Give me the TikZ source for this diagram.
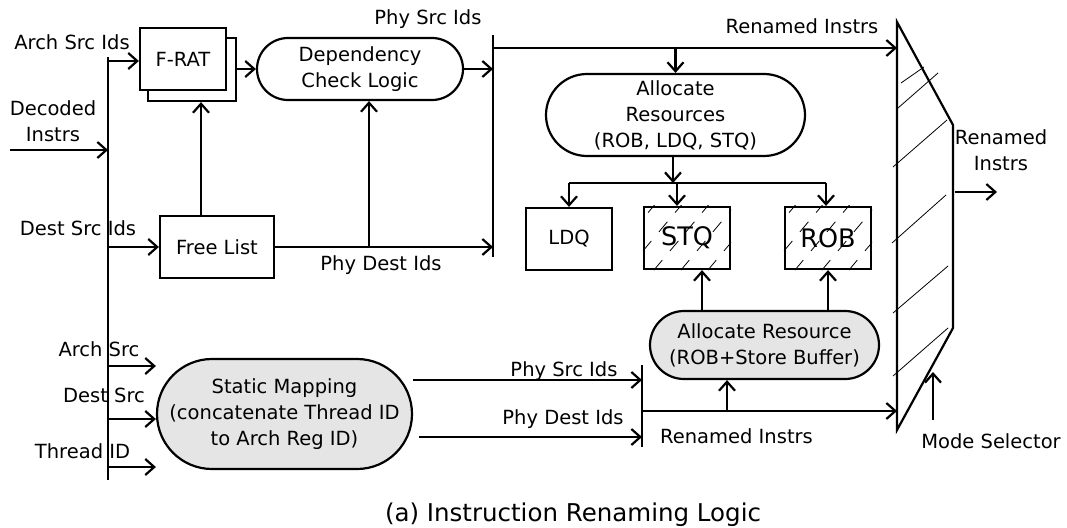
\documentclass[tikz,border=0pt]{standalone}
\usepackage{fontspec}
\setmainfont{DejaVu Sans}
\usetikzlibrary{arrows.meta,calc}
\begin{document}
\begin{tikzpicture}[x=1pt,y=-1pt,
  every node/.style={font=\fontsize{19.5}{26}\selectfont},
  blk/.style={draw,line width=2.2pt,inner sep=0pt,fill=white,align=center},
  lbl/.style={inner sep=0pt,anchor=base},
  mlbl/.style={inner sep=0pt,align=center},
  ln/.style={line width=2.2pt},
  arr/.style={line width=2.2pt,-{Straight Barb[length=9pt,width=16pt,line width=2.2pt]}},
  hatch/.style={line width=0.8pt},
  grey/.style={fill=black!10}]
\useasboundingbox (0,0) rectangle (1067,527);

% buses
\coordinate (lt) at (108,57); \coordinate (lb) at (108,480);
\coordinate (mt) at (493,35); \coordinate (mb) at (493,257);
\coordinate (bt) at (642,365); \coordinate (bb) at (642,447);
\draw[ln] (lt) -- (lb);
\draw[ln] (mt) -- (mb);
\draw[ln] (bt) -- (bb);

% mux
\coordinate (m1) at (897,22); \coordinate (m2) at (953,125);
\coordinate (m3) at (953,328); \coordinate (m4) at (897,430);
\draw[ln,line join=miter] (m1) -- (m2) -- (m3) -- (m4) -- cycle;
\draw[hatch] (901,83) -- (924,67);
\draw[hatch] (898,108) -- (938,73);
\draw[hatch] (893,167) -- (947,120);
\draw[hatch] (892,243) -- (946,195);
\draw[hatch] (893,313) -- (948,266);
\draw[hatch] (893,376) -- (948,328);

% blocks
\node[blk,minimum width=88pt,minimum height=63pt] (frat2) at (192,69.5) {};
\node[blk,minimum width=86pt,minimum height=62pt] (frat) at (183,59) {F-RAT};
\node[blk,rounded corners=31pt,minimum width=206pt,minimum height=62pt] (dcl) at (360,69) {Dependency\\Check Logic};
\node[blk,minimum width=114pt,minimum height=62pt] (free) at (217,247) {Free List};
\node[blk,rounded corners=41pt,minimum width=259pt,minimum height=82pt] (alloc) at (675.5,115) {Allocate\\Resources\\(ROB, LDQ, STQ)};
\node[blk,minimum width=86pt,minimum height=62pt] (ldq) at (569,239) {LDQ};
\node[blk,minimum width=86pt,minimum height=62pt,font=\fontsize{25.5}{30}\selectfont] (stq) at (687,238) {STQ};
\node[blk,minimum width=86pt,minimum height=62pt,font=\fontsize{25.5}{30}\selectfont] (rob) at (828,238) {ROB};
\node[blk,grey,rounded corners=34pt,minimum width=229pt,minimum height=68pt] (allocB) at (764.5,345) {Allocate Resource\\(ROB+Store Buffer)};
\node[blk,grey,rounded corners=55pt,minimum width=255pt,minimum height=110pt] (static) at (284.5,414) {Static Mapping\\(concatenate Thread ID\\to Arch Reg ID)};

% hatching of STQ and ROB
\foreach \b in {stq,rob}{
  \begin{scope}
    \clip (\b.south west) rectangle (\b.north east);
    \foreach \i in {-70,-43,...,110}
      \draw[hatch,dash pattern=on 13pt off 12pt] ($(\b.south west)+(\i,0)$) -- ++(62,-74);
  \end{scope}
}

% labels
\node[lbl] (lArch) at (72,49) {Arch Src Ids};
\node[mlbl] (lDec) at (53,121.5) {Decoded\\Instrs};
\node[lbl] (lDest) at (78,235) {Dest Src Ids};
\node[lbl] (lPhyS) at (428,25) {Phy Src Ids};
\node[lbl] (lPhyD) at (381,270) {Phy Dest Ids};
\node[lbl] (lRen) at (802,34) {Renamed Instrs};
\node[mlbl] (lRen2) at (1001,150) {Renamed\\Instrs};
\node[lbl] (lPS2) at (564,376) {Phy Src Ids};
\node[lbl] (lPD2) at (563,424) {Phy Dest Ids};
\node[lbl] (lRen3) at (736.5,443) {Renamed Instrs};
\node[lbl] (lMode) at (991,448) {Mode Selector};
\node[lbl] (lAS) at (99,356) {Arch Src};
\node[lbl] (lDS) at (104,402) {Dest Src};
\node[lbl] (lTID) at (82.5,458) {Thread ID};
\node[lbl,font=\fontsize{24.5}{30}\selectfont] (cap) at (573,521) {(a) Instruction Renaming Logic};

% helper coordinates
\coordinate (fw) at ([yshift=-2pt]frat.west);
\coordinate (sw) at ([yshift=-5pt]static.west);
\coordinate (se1) at ([yshift=34pt]static.east);
\coordinate (se2) at ([xshift=6pt,yshift=-23pt]static.east);
\coordinate (asou) at ([xshift=-2.5pt]alloc.south);
\coordinate (stn) at ([xshift=-10pt]stq.north);
\coordinate (robn) at ([xshift=-2pt]rob.north);
\coordinate (sts) at ([xshift=15pt]stq.south);
\coordinate (abs) at ([xshift=-37.5pt]allocB.south);
\coordinate (frn) at ([xshift=-16pt]free.north);
\coordinate (dcs) at ([xshift=9pt]dcl.south);
\coordinate (m2r) at ([xshift=2pt]m2);

% top-left connectors
\draw[arr] (lt |- fw) -- (fw);
\coordinate (din) at (10,150);
\draw[arr] (din) -- (din -| lt);
\draw[arr] (free.west -| lt) -- (free.west);
\draw[arr] (frn) -- (frn |- frat2.south);
\draw[arr] (frat2.east |- dcl.west) -- (dcl.west);
\draw[arr] (dcl.east) -- (dcl.east -| mt);
\draw[arr] (free.east) -- (free.east -| mt);
\draw[arr] (dcs |- free.east) -- (dcs);

% top-right connectors
\coordinate (ri) at (493,48);
\draw[arr] (ri) -- (ri -| m1);
\draw[arr] (ri -| alloc.north) -- (alloc.north);
\coordinate (sp) at (673,183);
\draw[arr] (asou) -- (asou |- sp);
\draw[ln] (ldq.north |- sp) -- (robn |- sp);
\draw[arr] (ldq.north |- sp) -- (ldq.north);
\draw[arr] (stn |- sp) -- (stn);
\draw[arr] (robn |- sp) -- (robn);
\coordinate (o2) at (997,192);
\draw[arr] (m2r |- o2) -- (o2);

% bottom connectors
\coordinate (as) at (108,366);
\draw[arr] (as) -- (as -| static.west);
\draw[arr] (lt |- sw) -- (sw);
\coordinate (td) at (108,467);
\draw[arr] (td) -- (td -| static.west);
\draw[arr] (se1) -- (se1 -| bt);
\draw[arr] (se2) -- (se2 -| bt);
\coordinate (rn) at (642,411);
\draw[arr] (rn) -- (rn -| m4);
\draw[arr] (abs |- rn) -- (abs);
\draw[arr] (sts |- allocB.north) -- (sts);
\draw[arr] (rob.south |- allocB.north) -- (rob.south);
\coordinate (ms) at (933,420); \coordinate (mst) at (933,372);
\draw[arr] (ms) -- (mst);
\end{tikzpicture}
\end{document}
